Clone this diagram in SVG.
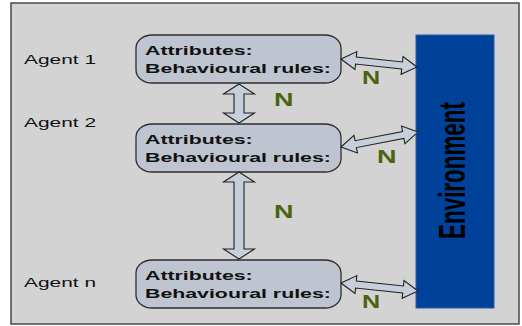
<svg xmlns="http://www.w3.org/2000/svg" width="522" height="326" viewBox="0 0 522 326">
<style>
.frame{fill:#d3d3d3;stroke:#4a4a4a;stroke-width:1.5}
.node{fill:#bec5d0;stroke:#2e2e2e;stroke-width:1.3}
.arr{fill:#c7cfdb;stroke:#222;stroke-width:1.1;stroke-linejoin:miter}
.lbl{font-family:"Liberation Sans",Arial,sans-serif;font-size:12.6px;fill:#111}
.nt{font-family:"Liberation Sans",Arial,sans-serif;font-size:13.5px;font-weight:bold;fill:#111}
.n{font-family:"Liberation Sans",Arial,sans-serif;font-size:18px;font-weight:bold;fill:#4a6410}
.env{font-family:"Liberation Sans",Arial,sans-serif;font-size:22.4px;font-weight:bold;fill:#000}
</style>
<rect x="0" y="0" width="522" height="326" fill="#ffffff"/>
<rect class="frame" x="11" y="3" width="508" height="321"/>

<g id="environment">
<rect x="416" y="35" width="78" height="273" fill="#00419a" stroke="#2a5aa8" stroke-width="1"/>
<text class="env" text-anchor="middle" transform="translate(465,170.5) scale(1.62,1) rotate(-90)">Environment</text>
</g>

<g id="agent1">
<text class="lbl" transform="translate(24,64) scale(1.66,1)">Agent 1</text>
<rect class="node" x="136" y="35" width="205" height="48" rx="16" ry="13"/>
<text class="nt" transform="translate(145,55) scale(1.58,1)">Attributes:</text>
<text class="nt" transform="translate(145,73) scale(1.58,1)">Behavioural rules:</text>
</g>

<g id="agent2">
<text class="lbl" transform="translate(24,127) scale(1.66,1)">Agent 2</text>
<rect class="node" x="136" y="124" width="205" height="48" rx="16" ry="13"/>
<text class="nt" transform="translate(145,144) scale(1.58,1)">Attributes:</text>
<text class="nt" transform="translate(145,162) scale(1.58,1)">Behavioural rules:</text>
</g>

<g id="agentn">
<text class="lbl" transform="translate(24,287) scale(1.66,1)">Agent n</text>
<rect class="node" x="136" y="260" width="205" height="48" rx="16" ry="13"/>
<text class="nt" transform="translate(145,280) scale(1.58,1)">Attributes:</text>
<text class="nt" transform="translate(145,298) scale(1.58,1)">Behavioural rules:</text>
</g>

<g id="connectors">
<polygon class="arr" points="239,84 254.5,94 244,94 244,113 254.5,113 239,123 223.5,113 234,113 234,94 223.5,94"/>
<polygon class="arr" points="239,172 254.5,182 244,182 244,249 254.5,249 239,259 223.5,249 234,249 234,182 223.5,182"/>
<polygon class="arr" transform="translate(341,59) rotate(6)" points="0,0 15,-9 15,-3.5 61.4,-3.5 61.4,-9 76.4,0 61.4,9 61.4,3.5 15,3.5 15,9"/>
<polygon class="arr" transform="translate(341,147) rotate(-11)" points="0,0 15,-9 15,-3.5 63.4,-3.5 63.4,-9 78.4,0 63.4,9 63.4,3.5 15,3.5 15,9"/>
<polygon class="arr" transform="translate(341,283) rotate(5.9)" points="0,0 15,-9 15,-3.5 62.4,-3.5 62.4,-9 77.4,0 62.4,9 62.4,3.5 15,3.5 15,9"/>
<text class="n" transform="translate(362,84) scale(1.4,1)">N</text>
<text class="n" transform="translate(274,106) scale(1.5,1)">N</text>
<text class="n" transform="translate(377,163) scale(1.5,1)">N</text>
<text class="n" transform="translate(274,218) scale(1.5,1)">N</text>
<text class="n" transform="translate(362,308) scale(1.4,1)">N</text>
</g>
</svg>
